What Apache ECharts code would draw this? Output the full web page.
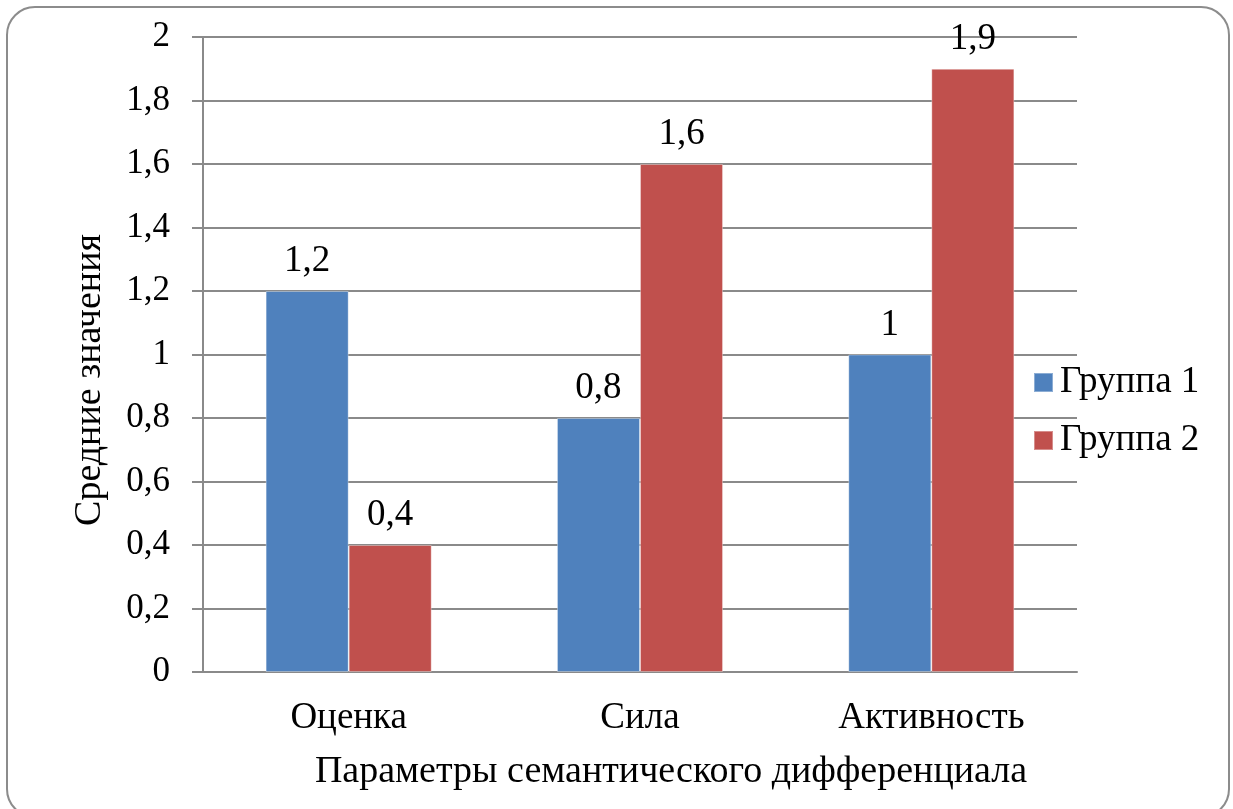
<!DOCTYPE html>
<html>
<head>
<meta charset="utf-8">
<script src="https://cdn.jsdelivr.net/npm/echarts@6/dist/echarts.min.js"></script>
<style>
  html, body { margin: 0; padding: 0; background: #fff; }
  #chart { width: 1233px; height: 809px; }
</style>
</head>
<body>
<div id="chart"></div>
<script>
// Средние значения по параметрам семантического дифференциала
const categories = ['Оценка', 'Сила', 'Активность'];
const seriesNames = ['Группа 1', 'Группа 2'];
const group1 = [1.2, 0.8, 1.0];
const group2 = [0.4, 1.6, 1.9];
const yTicks = [0, 0.2, 0.4, 0.6, 0.8, 1, 1.2, 1.4, 1.6, 1.8, 2];
const xTitle = 'Параметры семантического дифференциала';
const yTitle = 'Средние значения';

const FONT = "'Liberation Serif', 'Times New Roman', serif";
const AXIS_GRAY = '#8a8a8a';
const fmt = v => String(Math.round(v * 10) / 10).replace('.', ',');

const chart = echarts.init(document.getElementById('chart'), null, { renderer: 'canvas' });

const barLabel = {
  show: true,
  position: 'top',
  distance: 11,
  color: '#000',
  fontFamily: FONT,
  fontSize: 37,
  formatter: p => fmt(p.value)
};

chart.setOption({
  backgroundColor: '#fff',
  animation: false,
  grid: { left: 203, right: 156, top: 37, bottom: 137, containLabel: false },
  legend: {
    orient: 'vertical',
    left: 1033,
    top: 364,
    padding: 0,
    itemWidth: 19,
    itemHeight: 19,
    itemGap: 21,
    icon: 'rect',
    textStyle: { fontFamily: FONT, fontSize: 37, color: '#000', padding: [0, 0, 0, 2] },
    data: seriesNames
  },
  xAxis: {
    type: 'category',
    data: categories,
    axisLine: { lineStyle: { color: AXIS_GRAY, width: 2 } },
    axisTick: { show: false },
    axisLabel: { color: '#000', fontFamily: FONT, fontSize: 37, margin: 28 }
  },
  yAxis: {
    type: 'value',
    min: yTicks[0],
    max: yTicks[yTicks.length - 1],
    interval: yTicks[1] - yTicks[0],
    axisLine: { show: true, lineStyle: { color: AXIS_GRAY, width: 2 } },
    axisTick: { show: true, length: 11, inside: false, lineStyle: { color: AXIS_GRAY, width: 2 } },
    splitLine: { show: true, lineStyle: { color: AXIS_GRAY, width: 2 } },
    axisLabel: { color: '#000', fontFamily: FONT, fontSize: 35, margin: 33, formatter: v => fmt(v) }
  },
  series: [
    {
      name: seriesNames[0],
      type: 'bar',
      data: group1,
      barGap: '0%',
      barCategoryGap: '43%',
      itemStyle: { color: '#4F81BD', borderColor: 'rgba(255,255,255,0.35)', borderWidth: 1 },
      label: barLabel
    },
    {
      name: seriesNames[1],
      type: 'bar',
      data: group2,
      barGap: '0%',
      barCategoryGap: '43%',
      itemStyle: { color: '#C0504D', borderColor: 'rgba(255,255,255,0.35)', borderWidth: 1 },
      label: barLabel
    }
  ],
  graphic: [
    {
      type: 'rect',
      z: -10,
      silent: true,
      shape: { x: 7, y: 7, width: 1222, height: 810, r: 28 },
      style: { fill: 'none', stroke: '#8c8c8c', lineWidth: 2 }
    },
    {
      type: 'text',
      silent: true,
      x: 671,
      y: 772,
      style: {
        text: xTitle, fontFamily: FONT, fontSize: 38, fill: '#000',
        textAlign: 'center', textVerticalAlign: 'middle'
      }
    },
    {
      type: 'text',
      silent: true,
      x: 90,
      y: 380,
      rotation: Math.PI / 2,
      style: {
        text: yTitle, fontFamily: FONT, fontSize: 38, fill: '#000',
        textAlign: 'center', textVerticalAlign: 'middle'
      }
    }
  ]
});
</script>
</body>
</html>
